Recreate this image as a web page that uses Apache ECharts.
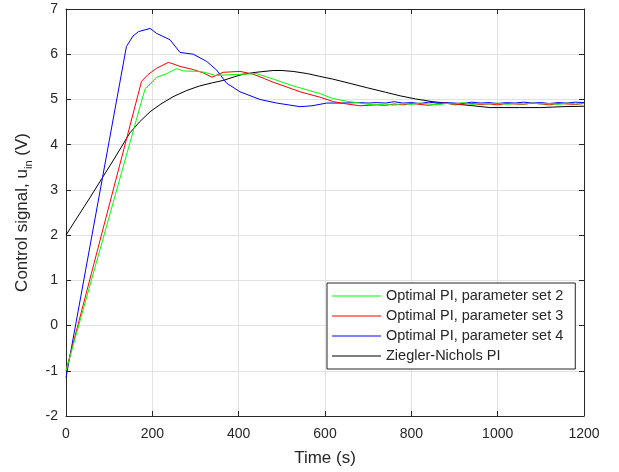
<!DOCTYPE html>
<html>
<head>
<meta charset="utf-8">
<script src="https://cdn.jsdelivr.net/npm/echarts@6/dist/echarts.min.js"></script>
<style>html,body{margin:0;padding:0;background:#fff}#c{width:619px;height:472px}</style>
</head>
<body>
<div id="c"></div>
<script>
// ---- data ----
const xTicks = [0, 200, 400, 600, 800, 1000, 1200];
const yTicks = [-2, -1, 0, 1, 2, 3, 4, 5, 6, 7];
const seriesNames = ['Optimal PI, parameter set 2', 'Optimal PI, parameter set 3', 'Optimal PI, parameter set 4', 'Ziegler-Nichols PI'];

// transient parts [time s, u_in V]
const set2Transient = [[0,-1.0],[183,5.23],[210,5.49],[233,5.57],[256,5.68],[272,5.63],[310,5.62],[333,5.57],[345,5.53],[387,5.55],[442,5.57],[480,5.45],[526,5.3],[588,5.13],[618,5.02],[650,4.96],[680,4.92],[700,4.89]];
const set3Transient = [[0,-1.0],[175,5.4],[190,5.55],[210,5.69],[237,5.82],[250,5.78],[264,5.73],[295,5.66],[320,5.58],[338,5.49],[364,5.6],[403,5.62],[433,5.56],[460,5.46],[480,5.38],[510,5.28],[542,5.17],[588,5.05],[620,4.95],[650,4.9],[681,4.86],[700,4.87]];
const set4Transient = [[0,-1.15],[140,6.17],[155,6.4],[168,6.5],[195,6.57],[210,6.46],[241,6.32],[264,6.04],[295,6.0],[326,5.84],[349,5.65],[372,5.36],[403,5.17],[449,5.0],[488,4.92],[542,4.84],[570,4.86],[604,4.92],[640,4.92],[680,4.93],[700,4.92]];
const znCurve = [[0,2.0],[30,2.45],[55,2.82],[83,3.25],[110,3.66],[148,4.26],[170,4.5],[195,4.73],[220,4.9],[248,5.06],[280,5.2],[310,5.3],[340,5.37],[364,5.42],[390,5.5],[411,5.56],[440,5.6],[480,5.64],[500,5.64],[526,5.62],[560,5.57],[588,5.51],[618,5.45],[660,5.35],[697,5.26],[740,5.16],[774,5.08],[810,5.01],[850,4.95],[900,4.9],[943,4.86],[982,4.82],[1050,4.82],[1100,4.82],[1151,4.84],[1200,4.85]];

// steady-state parts (small measurement ripple)
const steadyTime = [720,740,760,780,800,820,840,860,880,900,920,940,960,980,1000,1020,1040,1060,1080,1100,1120,1140,1160,1180,1200];
const set2Steady = [4.88,4.9,4.87,4.91,4.89,4.92,4.9,4.88,4.91,4.9,4.93,4.89,4.91,4.9,4.92,4.89,4.91,4.9,4.92,4.9,4.91,4.89,4.92,4.9,4.91];
const set3Steady = [4.88,4.87,4.9,4.88,4.91,4.89,4.87,4.9,4.92,4.88,4.9,4.91,4.89,4.9,4.88,4.91,4.9,4.89,4.92,4.9,4.88,4.91,4.9,4.89,4.91];
const set4Steady = [4.93,4.92,4.95,4.92,4.93,4.91,4.94,4.92,4.93,4.92,4.91,4.94,4.92,4.93,4.91,4.93,4.92,4.94,4.92,4.93,4.91,4.93,4.92,4.94,4.93];

function join(tr, st) {
  return tr.concat(steadyTime.map((t, i) => [t, st[i]]));
}
const colors = ['#00ff00', '#ff0000', '#0000ff', '#000000'];
const dataSets = [join(set2Transient, set2Steady), join(set3Transient, set3Steady), join(set4Transient, set4Steady), znCurve];

const axisColor = '#262626';
const gridColor = '#e1e1e1';
const font = 'Liberation Sans, Arial, sans-serif';

const chart = echarts.init(document.getElementById('c'));
chart.setOption({
  animation: false,
  backgroundColor: '#fff',
  grid: { left: 66, right: 35, top: 9, bottom: 55, containLabel: false },
  legend: {
    orient: 'vertical', left: 327, top: 283,
    padding: [5, 12, 5, 5],
    icon: 'rect',
    itemWidth: 49, itemHeight: 1, itemGap: 4,
    backgroundColor: '#fff', borderColor: axisColor, borderWidth: 1, borderRadius: 0,
    textStyle: { fontFamily: font, fontSize: 14.5, color: axisColor, lineHeight: 16 },
    data: seriesNames
  },
  xAxis: [{
    type: 'value', min: xTicks[0], max: xTicks[xTicks.length-1], interval: 200,
    name: 'Time (s)', nameLocation: 'middle', nameGap: 34,
    nameTextStyle: { fontFamily: font, fontSize: 17, color: axisColor },
    axisLine: { show: true, onZero: false, lineStyle: { color: axisColor, width: 1 } },
    axisTick: { show: true, inside: true, length: 5, lineStyle: { color: axisColor } },
    axisLabel: { fontFamily: font, fontSize: 14, color: axisColor, margin: 11, formatter: v => String(v) },
    splitLine: { show: true, lineStyle: { color: gridColor, width: 1 } }
  }, {
    type: 'value', position: 'top', min: 0, max: 1200, interval: 200,
    axisLine: { show: true, onZero: false, lineStyle: { color: axisColor, width: 1 } },
    axisTick: { show: true, inside: true, length: 5, lineStyle: { color: axisColor } },
    axisLabel: { show: false }, splitLine: { show: false }
  }],
  yAxis: [{
    type: 'value', min: yTicks[0], max: yTicks[yTicks.length-1], interval: 1,
    name: '{a|Control signal, u}{b|in}{a| (V)}', nameLocation: 'middle', nameGap: 32, nameRotate: 90,
    nameTextStyle: { fontFamily: font, fontSize: 17, color: axisColor,
      rich: {
        a: { fontFamily: font, fontSize: 17, color: axisColor, lineHeight: 20, verticalAlign: 'bottom' },
        b: { fontFamily: font, fontSize: 11, color: axisColor, lineHeight: 20, verticalAlign: 'bottom', padding: [0,0,-4,0] }
      } },
    axisLine: { show: true, onZero: false, lineStyle: { color: axisColor, width: 1 } },
    axisTick: { show: true, inside: true, length: 5, lineStyle: { color: axisColor } },
    axisLabel: { fontFamily: font, fontSize: 14, color: axisColor, margin: 8, formatter: v => String(v) },
    splitLine: { show: true, lineStyle: { color: gridColor, width: 1 } }
  }, {
    type: 'value', position: 'right', min: -2, max: 7, interval: 1,
    axisLine: { show: true, onZero: false, lineStyle: { color: axisColor, width: 1 } },
    axisTick: { show: true, inside: true, length: 5, lineStyle: { color: axisColor } },
    axisLabel: { show: false }, splitLine: { show: false }
  }],
  series: seriesNames.map((n, i) => ({
    name: n, type: 'line', data: dataSets[i], symbol: 'none', showSymbol: false,
    lineStyle: { color: colors[i], width: 1 }, itemStyle: { color: colors[i] },
    z: 10 - i
  }))
});
</script>
</body>
</html>
